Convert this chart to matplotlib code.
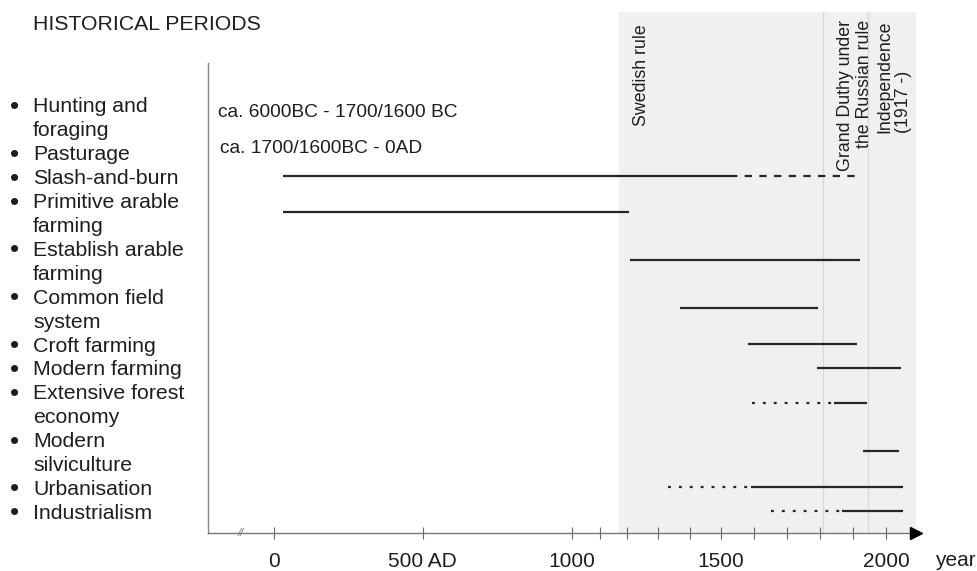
import numpy as np
import matplotlib.pyplot as plt
from matplotlib import transforms

plt.rcParams['font.family'] = ['Liberation Sans', 'DejaVu Sans']

title = "HISTORICAL PERIODS"
activities = ["Hunting and\nforaging", "Pasturage", "Slash-and-burn",
              "Primitive arable\nfarming", "Establish arable\nfarming",
              "Common field\nsystem", "Croft farming", "Modern farming",
              "Extensive forest\neconomy", "Modern\nsilviculture",
              "Urbanisation", "Industrialism"]

# solid part of each bar (years)
solid_from = [None, None, 30, 30, 1210, 1370, 1582, 1791, 1844, 1929, 1591, 1867]
solid_to = [None, None, 1527, 1206, 1921, 1794, 1912, 2045, 1943, 2039, 2051, 2051]
# uncertain continuation
cont_from = [None, None, 1527, None, None, None, None, None, 1594, None, 1330, 1652]
cont_to = [None, None, 1906, None, None, None, None, None, 1844, None, 1591, 1867]
cont_kind = [None, None, "dashed", None, None, None, None, None, "dotted", None, "dotted", "dotted"]

notes = ["ca. 6000BC - 1700/1600 BC", "ca. 1700/1600BC - 0AD"]
note_rows = [0, 1]
note_year = [-188, -180]

periods = ["Swedish rule", "Grand Duthy under\nthe Russian rule", "Independence\n(1917 -)"]
period_start = [1170, 1809, 1947]
period_end = 2091

tick_years = [0, 500, 1000, 1100, 1200, 1300, 1400, 1500, 1600, 1700, 1800, 1900, 2000]
tick_labels = ["0", "500 AD", "1000", "", "", "", "", "1500", "", "", "", "", "2000"]
break_year = -111

# the hand-drawn time axis is not quite linear: calibrate it
knot_years = [-400, 0, 500, 1000, 1100, 1200, 1500, 2000, 2200]
knot_pos = [155, 274, 423, 572, 600, 627, 721, 886, 952]


def fwd(x):
    return np.interp(x, knot_years, knot_pos)


def inv(p):
    return np.interp(p, knot_pos, knot_years)


W, H = 978, 571
fig = plt.figure(figsize=(W / 100, H / 100), dpi=100)
ax = fig.add_axes([208 / W, 1 - 533 / H, (916 - 208) / W, (533 - 12) / H])
ax.set_xscale('function', functions=(fwd, inv))
ax.set_xlim(-221, period_end)
# y in text-line units: line 0 = first label line
line_h = 23.9
ax.set_ylim((533 - 107) / line_h, (12 - 107) / line_h)

# shaded historical periods
ax.axvspan(period_start[0], period_end, color='#eff0f0', zorder=0, lw=0)
for s in period_start[1:]:
    ax.axvline(s, color='#d6d9d9', lw=1, zorder=1)

offsets = [16.5, 10.5, 6]
for name, s, off, i in zip(periods, period_start, offsets, range(3)):
    if i == 2:
        ax.annotate(name, xy=(s, 0.768), xycoords=ax.get_xaxis_transform(),
                    xytext=(off, 0), textcoords='offset points', rotation=90,
                    ha='left', va='bottom', multialignment='left',
                    fontsize=12.8, color='#1e1e1e', linespacing=1.1)
    elif i == 1:
        ax.annotate(name, xy=(s, 0.985), xycoords=ax.get_xaxis_transform(),
                    xytext=(off, 0), textcoords='offset points', rotation=90,
                    ha='left', va='top', multialignment='right',
                    fontsize=12.8, color='#1e1e1e', linespacing=1.1)
    else:
        ax.annotate(name, xy=(s, 0.977), xycoords=ax.get_xaxis_transform(),
                    xytext=(off, 0), textcoords='offset points', rotation=90,
                    ha='center', va='top',
                    fontsize=12.8, color='#1e1e1e')

# activity labels on the left, one text per line
lab_tr = transforms.blended_transform_factory(fig.transFigure, ax.transData)
row_center = []
k = 0
for lab in activities:
    lines = lab.split("\n")
    ax.text(15 / W, k, "\u2022", transform=lab_tr, ha='center', va='center',
            fontsize=19, color='#1e1e1e', clip_on=False)
    for j, ln in enumerate(lines):
        ax.text(33 / W, k + j, ln, transform=lab_tr, ha='left', va='center',
                fontsize=15.3, color='#1e1e1e', clip_on=False)
    row_center.append(k + (len(lines) - 1) / 2 - 0.1)
    k += len(lines)

# bars
for i in range(len(activities)):
    y = row_center[i]
    if solid_from[i] is not None:
        ax.plot([solid_from[i], solid_to[i]], [y, y], color='#262626', lw=1.6,
                solid_capstyle='butt', zorder=3)
    if cont_from[i] is not None:
        ls = (0, (3.3, 3.3)) if cont_kind[i] == "dashed" else (0, (1.3, 3.6))
        ax.plot([cont_from[i], cont_to[i]], [y, y], color='#262626', lw=1.6,
                linestyle=ls, dash_capstyle='butt', zorder=3)

for txt, r, x in zip(notes, note_rows, note_year):
    ax.text(x, row_center[r] - 0.15, txt, ha='left', va='center',
            fontsize=13.8, color='#1e1e1e')

# axes styling
for sp in ['top', 'right']:
    ax.spines[sp].set_visible(False)
ax.spines['left'].set_color('#888888')
ax.spines['left'].set_linewidth(1)
ax.spines['left'].set_bounds((533 - 107) / line_h, (63 - 107) / line_h)
ax.spines['bottom'].set_color('#777777')
ax.spines['bottom'].set_linewidth(1)
ax.set_yticks([])
ax.set_xticks(tick_years)
ax.set_xticklabels(tick_labels)
ax.xaxis.set_minor_locator(plt.NullLocator())
ax.tick_params(axis='x', direction='inout', length=9, width=0.8, color='#666666',
               pad=9, labelsize=15, labelcolor='#1e1e1e')
ax.plot(1, 0, '>', transform=ax.transAxes, clip_on=False, ms=9, color='black',
        zorder=5)
ax.text(break_year, 0, "//", transform=ax.get_xaxis_transform(), ha='center',
        va='center', fontsize=8, color='#777777', style='italic', clip_on=False)

fig.text(33 / W, 1 - 24 / H, title, ha='left', va='center', fontsize=15.3,
         color='#1e1e1e')
fig.text(955 / W, 1 - 561 / H, "year", ha='center', va='center', fontsize=15,
         color='#1e1e1e')

fig.savefig("out.png", dpi=100)
